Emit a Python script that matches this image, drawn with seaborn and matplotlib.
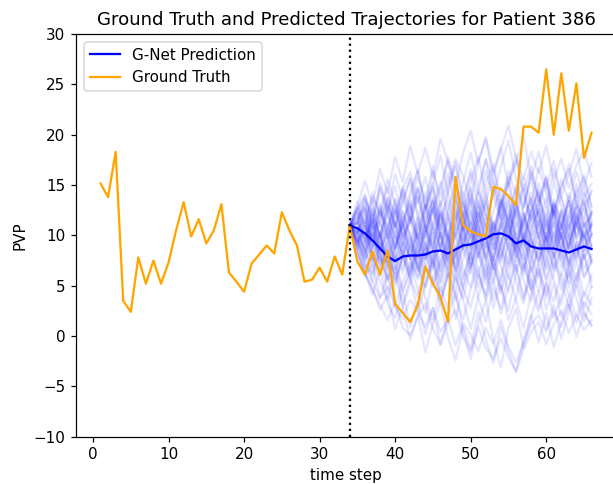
import numpy as np
import pandas as pd
import matplotlib
matplotlib.use("Agg")
import matplotlib.pyplot as plt
import seaborn as sns

# Ground truth (time steps 1..66)
gt_steps = list(range(1, 67))
gt_values = [15.15, 13.8, 18.3, 3.5, 2.4, 7.8, 5.2, 7.5, 5.2, 7.3,
             10.5, 13.3, 9.9, 11.6, 9.2, 10.5, 13.1, 6.3, 5.4, 4.4,
             7.2, 8.1, 9.0, 8.2, 12.3, 10.5, 9.0, 5.4, 5.6, 6.8,
             5.4, 7.9, 6.1, 11.0, 7.4, 6.1, 8.4, 6.1, 8.5, 3.2,
             2.3, 1.4, 3.1, 6.9, 5.2, 3.9, 1.4, 15.8, 11.0, 10.4,
             10.1, 9.9, 14.8, 14.6, 13.9, 13.0, 20.8, 20.8, 20.2, 26.5,
             20.0, 26.1, 20.4, 25.1, 17.7, 20.2]

# G-Net mean prediction (time steps 34..66)
pred_steps = list(range(34, 67))
pred_mean = [11.0, 10.7, 10.2, 9.5, 8.7, 7.9, 7.45, 7.9, 8.0, 8.0,
             8.1, 8.4, 8.5, 8.2, 8.6, 9.0, 9.1, 9.4, 9.7, 10.1,
             10.2, 9.9, 9.2, 9.5, 8.9, 8.7, 8.7, 8.7, 8.5, 8.3,
             8.6, 8.9, 8.65]

# Sampled trajectories (time steps 35..66; all start from 11.0 at step 34)
start_value = 11.0
samples = [
    [12.8,10.1,13.5,9.7,12.2,14.9,11.3,13.8, 16.4,12.7,15.1,17.9,14.2,11.6,15.3,18.2, 14.7,17.5,13.9,16.8,19.4,15.6,12.8,16.1, 13.4,15.9,12.2,14.7,17.1,13.3,15.8,12.9],
    [9.2,7.8,10.4,6.9,8.6,5.3,7.9,9.8, 6.4,8.7,4.9,7.2,9.6,5.8,3.7,6.9, 8.3,5.1,7.6,4.2,6.8,9.1,5.5,3.4, 6.7,4.1,7.3,5.6,2.9,5.8,8.2,4.9],
    [11.9,9.3,11.6,8.1,10.7,12.9,9.4,7.6, 10.8,13.1,9.9,12.4,8.7,11.2,14.3,10.6, 8.2,11.7,9.1,12.8,10.3,7.9,11.4,13.6, 9.8,12.1,8.6,10.9,13.4,9.7,11.8,8.9],
    [10.3,12.6,8.9,11.4,13.7,10.2,8.1,11.8, 9.3,12.5,14.8,11.1,9.4,12.7,10.5,8.6, 11.9,14.2,10.7,13.3,9.8,12.6,15.1,11.4, 13.7,10.2,12.9,9.6,11.8,14.4,10.9,12.3],
    [8.7,10.9,7.3,9.6,6.2,8.8,11.1,7.5, 5.9,8.4,10.7,7.1,9.5,6.3,8.9,11.3, 7.8,10.2,6.6,9.4,12.0,8.3,6.1,9.7, 11.5,7.9,10.3,6.8,9.2,11.9,8.4,10.1],
    [12.6,14.1,11.4,15.2,12.8,10.9,14.6,16.3, 13.2,15.8,12.1,14.9,17.4,13.6,11.8,15.4, 17.8,14.1,16.6,12.9,15.3,18.1,14.4,16.9, 13.5,15.7,12.3,14.8,16.6,13.1,11.7,14.5],
    [9.8,7.4,10.2,8.1,5.6,8.3,6.2,9.1, 7.0,4.8,7.9,10.3,6.6,8.9,5.7,8.4, 10.9,7.3,5.2,8.6,6.9,9.8,7.1,4.6, 7.4,9.9,6.5,8.8,5.9,8.1,10.4,7.2],
    [11.4,13.3,10.6,12.9,9.8,12.1,14.5,11.2, 13.8,10.4,12.7,15.3,11.9,9.6,13.2,11.1, 14.6,12.3,10.1,13.5,11.6,14.7,12.2,9.9, 12.8,15.1,11.7,13.9,10.8,12.6,14.9,11.5],
    [8.1,5.9,7.2,3.8,6.1,2.9,5.4,7.3, 4.6,2.3,5.8,3.1,6.4,4.0,1.6,4.7, 6.9,3.5,5.7,2.2,4.8,7.1,3.9,5.6, 2.8,5.3,3.4,6.2,4.1,1.9,4.4,3.1],
    [10.6,8.2,11.3,9.1,12.4,8.8,10.9,13.1, 9.7,12.2,14.6,10.8,13.5,9.9,12.1,14.8, 11.3,13.9,10.2,12.7,15.2,11.6,9.3,12.5, 14.3,10.9,13.2,11.0,8.7,11.8,13.6,10.4],
    [11.2,12.9,9.5,12.3,10.1,13.6,11.0,8.4, 11.7,9.2,7.3,10.6,8.4,11.9,9.1,6.8, 9.6,12.2,8.7,11.1,13.4,9.5,7.6,10.8, 12.6,9.3,11.5,8.6,10.9,13.1,9.8,11.2],
    [12.9,15.4,13.1,16.6,14.2,17.8,15.3,18.9, 16.1,18.7,15.8,19.6,17.3,14.9,18.2,20.4, 17.1,19.8,16.4,18.6,20.9,17.7,15.6,18.3, 16.2,18.9,15.4,17.6,14.7,16.9,18.5,15.8],
    [9.4,11.2,7.9,10.1,6.8,9.9,8.1,5.9, 8.7,11.1,7.6,5.4,8.9,6.7,9.8,7.2, 10.6,8.0,5.8,9.3,11.7,8.4,6.5,9.6, 7.5,10.2,8.1,6.0,9.4,11.3,7.7,9.0],
    [10.8,9.1,12.4,10.0,13.1,11.4,8.9,12.2, 14.6,11.3,13.8,10.5,12.6,15.4,11.8,9.7, 13.2,10.8,8.6,11.9,14.1,10.7,12.9,15.6, 11.8,9.4,12.6,10.3,13.8,11.1,12.7,10.2],
    [8.2,6.4,4.1,6.7,3.2,1.8,4.5,0.9, 3.4,0.2,2.8,-0.9,2.1,4.3,0.6,-2.3, 1.2,3.6,-0.4,-3.1,0.8,2.7,-1.2,1.9, 4.5,0.7,3.1,-0.3,2.4,5.1,2.2,1.0],
    [11.6,9.4,12.1,8.3,10.7,7.6,10.1,12.9, 8.9,11.4,13.6,9.8,7.5,11.1,8.6,12.3, 9.9,13.1,10.6,7.8,10.2,12.7,8.8,11.5, 13.4,9.6,7.9,11.3,8.7,12.1,9.5,11.0],
    [9.7,8.3,10.6,6.9,9.4,11.3,7.8,5.7, 8.1,10.5,6.6,9.2,5.8,8.3,10.9,6.9, 9.3,5.9,8.1,11.2,8.7,6.4,10.1,7.9, 5.8,9.2,6.8,10.3,7.6,5.4,8.9,7.7],
    [12.4,13.9,10.8,14.6,12.1,9.8,13.4,15.7, 11.6,14.3,10.7,13.1,16.2,12.5,10.4,14.1, 11.8,15.2,17.1,13.6,11.3,15.0,12.7,16.4, 13.9,11.5,15.3,12.9,10.6,14.2,16.0,12.8],
    [9.5,7.1,6.2,8.8,5.4,7.9,4.6,6.8, 9.2,5.7,8.1,4.3,6.9,3.5,5.9,8.4, 4.8,7.2,3.6,5.8,9.1,5.4,3.2,6.9, 4.4,7.8,5.6,3.1,6.7,4.8,8.1,5.5],
    [11.1,12.7,9.6,13.2,10.8,8.7,12.4,9.9, 7.6,11.3,8.8,12.6,9.7,13.4,10.9,8.2, 12.3,9.6,7.5,11.1,13.6,9.7,12.1,8.8, 11.0,13.8,9.5,12.4,8.6,11.2,13.5,9.8],
    [9.1,11.4,7.6,10.3,6.6,8.9,11.8,7.9, 10.4,12.9,8.8,6.5,10.1,7.7,11.5,13.7, 9.8,7.4,11.2,8.6,12.4,9.9,6.8,10.3, 12.6,8.7,11.3,7.6,10.1,12.8,8.9,11.1],
    [10.2,8.6,6.9,8.0,5.7,7.1,4.4,6.3, 8.6,4.9,7.3,3.6,5.8,8.4,4.7,2.8, 6.1,3.8,7.2,4.9,2.5,6.3,8.6,4.6, 7.1,3.7,6.2,8.5,4.8,7.4,3.9,6.1],
    [12.7,11.2,13.9,12.1,14.8,10.9,13.3,15.6, 12.1,9.8,13.4,10.6,14.7,16.9,13.1,10.5, 14.3,11.9,9.6,13.2,15.8,11.7,14.6,10.8, 13.1,15.7,11.6,9.7,13.4,10.8,14.2,12.3],
    [10.4,11.9,8.6,12.7,9.8,7.2,11.4,8.9, 6.5,10.1,12.8,8.7,11.6,7.9,10.4,13.1, 8.8,6.4,10.3,7.5,11.2,13.6,9.7,7.3, 11.4,8.6,12.5,9.8,7.1,11.2,8.9,10.1],
    [11.3,8.8,12.6,9.7,7.1,10.4,6.6,9.2, 11.8,7.7,10.2,6.4,8.9,12.3,8.6,6.2, 10.4,7.6,11.3,8.8,5.7,9.1,11.6,7.9, 10.3,6.6,8.9,12.4,9.7,7.4,11.1,8.7],
    [9.6,7.9,5.4,8.2,4.3,6.9,3.1,5.8, 2.4,5.1,7.6,3.4,6.2,1.7,4.9,7.3, 3.8,1.4,4.9,2.7,6.1,3.6,0.8,4.2, 6.5,2.6,5.2,1.9,3.8,6.3,2.7,4.9],
    [11.7,12.9,10.6,11.4,13.8,12.1,14.9,12.7, 15.8,13.4,16.9,12.8,15.2,17.6,15.9,13.2, 17.4,19.5,15.8,18.7,14.9,17.2,19.8,15.6, 18.3,14.7,17.4,13.8,16.1,18.6,14.9,17.2],
    [10.1,8.7,11.6,9.9,12.8,8.6,11.3,13.4, 9.8,7.6,11.2,8.5,6.6,10.3,12.4,8.9, 11.5,7.9,10.1,13.6,10.9,8.4,12.2,9.7, 7.6,11.4,8.8,12.6,10.2,7.7,11.3,9.1],
    [12.2,9.7,11.3,8.6,10.1,7.4,9.2,11.8, 7.9,10.3,12.6,8.7,11.4,13.8,9.6,12.5, 8.6,11.2,7.6,10.4,12.9,8.8,11.3,13.7, 9.8,7.5,11.2,8.6,12.4,9.8,13.1,10.9],
    [9.3,10.6,7.8,6.4,9.1,5.6,7.9,10.4, 6.6,9.3,5.4,7.8,10.6,6.9,4.7,8.2, 5.8,9.3,6.8,4.6,7.9,10.5,8.1,5.4, 9.2,6.8,10.4,7.6,5.3,9.1,6.7,8.1],
    [11.2,13.6,12.1,9.8,13.4,10.7,14.5,11.9, 9.6,13.1,10.8,8.7,12.2,14.6,10.6,13.5, 10.9,8.8,12.4,14.7,10.8,13.6,9.6,12.3, 14.5,10.7,13.2,11.8,9.7,13.4,10.8,12.1],
    [8.8,6.1,4.8,2.6,4.1,0.7,2.9,-0.4, 2.1,-1.6,1.2,3.3,-0.2,-2.4,1.0,-1.3, 2.4,-0.3,-2.7,0.9,-1.5,-3.6,-0.4,2.1, -0.6,2.3,-1.1,1.4,3.2,-0.1,2.4,1.1],
    [10.1,12.4,8.9,11.3,9.7,12.6,10.1,7.6, 11.2,8.6,12.7,10.1,7.3,11.1,13.6,9.8, 12.9,8.7,11.4,9.7,7.2,11.3,8.6,12.5, 9.7,12.8,8.9,11.1,13.4,9.6,8.4,11.3],
    [11.3,9.8,12.9,11.2,8.6,12.4,9.9,11.3, 13.9,10.8,8.4,12.1,9.6,14.4,12.1,9.4, 13.5,10.6,14.6,11.9,9.2,13.2,10.7,8.3, 12.4,9.7,13.6,11.1,8.5,12.2,9.9,12.4],
    [9.9,7.6,8.8,10.4,7.7,6.2,9.3,7.9, 5.6,9.1,6.8,10.3,7.6,5.3,9.2,11.4, 7.8,10.2,6.6,9.1,11.3,7.4,10.3,6.5, 8.9,11.6,7.7,10.2,6.8,9.4,7.6,10.1],
    [13.4,10.8,14.3,11.9,15.6,13.1,10.7,14.4, 16.5,12.9,15.2,11.6,14.1,17.3,13.8,16.2, 12.7,16.4,13.8,11.5,15.3,17.4,13.9,11.6, 15.2,12.8,16.6,13.7,11.4,15.1,12.9,14.3],
    [10.2,11.6,8.6,10.1,7.4,11.3,8.8,6.5, 10.2,7.6,11.4,13.3,9.8,7.2,11.1,8.7, 12.3,9.8,7.4,11.2,8.6,12.5,9.7,13.1, 10.9,8.4,12.2,9.6,7.3,11.1,9.9,8.6],
    [11.1,9.6,7.4,8.8,11.2,8.3,12.4,9.8, 7.2,10.9,8.6,12.3,9.7,6.4,10.1,7.6, 11.2,13.4,9.6,7.3,11.0,8.4,12.3,9.7, 7.1,9.8,12.4,8.7,11.2,8.5,10.1,7.4],
    [9.2,6.7,8.1,5.4,3.6,6.3,2.8,5.2, 7.4,3.8,1.6,4.9,2.7,6.1,3.6,0.7, 3.9,6.4,2.8,5.1,1.6,3.8,7.2,4.6, 2.4,5.3,1.8,3.9,6.4,3.7,1.4,3.8],
    [12.3,10.9,9.7,12.4,10.8,13.6,9.6,12.2, 14.7,10.8,13.4,9.7,12.1,8.8,11.2,14.6, 10.7,13.4,15.6,11.8,9.6,13.2,10.7,14.3, 11.8,9.4,13.1,10.6,14.2,11.7,9.6,12.1],
    [9.0,7.1,5.4,3.8,4.9,2.9,1.7,3.6, 2.4,0.9,2.8,0.4,1.7,-0.9,1.3,0.1, -1.5,0.8,-0.8,1.6,-1.1,-2.6,-0.7,1.2, 2.1,0.4,2.5,0.9,3.1,1.3,3.4,2.2],
    [8.4,6.3,4.6,3.1,1.6,3.4,0.8,0.1, 1.9,3.2,0.7,-0.8,1.3,2.6,-0.1,-1.6, 0.9,-1.2,-2.3,-0.2,-2.1,-3.5,-1.3,0.4, 1.4,-0.8,1.2,2.5,0.3,2.1,0.6,1.6],
    [10.4,8.6,6.1,9.3,7.2,4.9,8.1,5.6, 3.9,7.4,9.8,5.9,8.6,4.3,7.7,10.4, 6.2,4.1,7.9,5.4,9.7,6.8,3.6,7.4, 9.8,5.7,8.3,4.6,7.1,9.3,5.9,7.6],
    [11.8,13.7,11.3,14.9,12.4,16.1,13.6,11.4, 14.8,12.6,16.3,13.9,17.8,15.2,12.8,16.6, 14.1,17.6,15.2,12.6,16.4,13.9,15.8,13.1, 16.7,14.2,12.1,15.6,13.4,16.3,13.8,15.1],
    [10.7,8.1,10.9,7.4,9.8,6.6,8.7,6.1, 9.4,6.8,8.6,5.2,7.9,10.2,6.7,4.8, 8.4,5.6,9.1,6.9,4.4,7.8,9.9,6.3, 8.6,5.4,7.9,10.3,6.6,8.9,5.8,7.4],
]

split_step = 34

rows = []
for i, s in enumerate(samples):
    vals = [start_value] + list(s)
    for j, v in enumerate(vals):
        rows.append({"sample": i, "t": split_step + j, "v": v})
df_samples = pd.DataFrame(rows)
df_gt = pd.DataFrame({"t": gt_steps, "v": gt_values})
df_pred = pd.DataFrame({"t": pred_steps, "v": pred_mean})

DPI = 109
fig = plt.figure(figsize=(613 / DPI, 484 / DPI), dpi=DPI)
ax = fig.add_axes([0.124, 0.0977, 0.881, 0.832])

sns.lineplot(data=df_samples, x="t", y="v", units="sample", estimator=None,
             color="blue", alpha=0.1, linewidth=1.5, legend=False, ax=ax)
sns.lineplot(data=df_pred, x="t", y="v", color="blue", linewidth=1.5,
             label="G-Net Prediction", ax=ax)
sns.lineplot(data=df_gt, x="t", y="v", color="orange", linewidth=1.5,
             label="Ground Truth", ax=ax)
ax.axvline(split_step, color="black", linestyle=":", linewidth=1.5)

ax.set_ylim(-10, 30)
ax.set_xlim(-2.25, 69.25)
ax.set_xticks([0, 10, 20, 30, 40, 50, 60])
ax.set_yticks([-10, -5, 0, 5, 10, 15, 20, 25, 30])
ax.set_xlabel("time step")
ax.set_ylabel("PVP")
ax.set_title("Ground Truth and Predicted Trajectories for Patient 386", fontsize=12)
ax.legend(loc="upper left")

fig.savefig("out.png", dpi=DPI)
